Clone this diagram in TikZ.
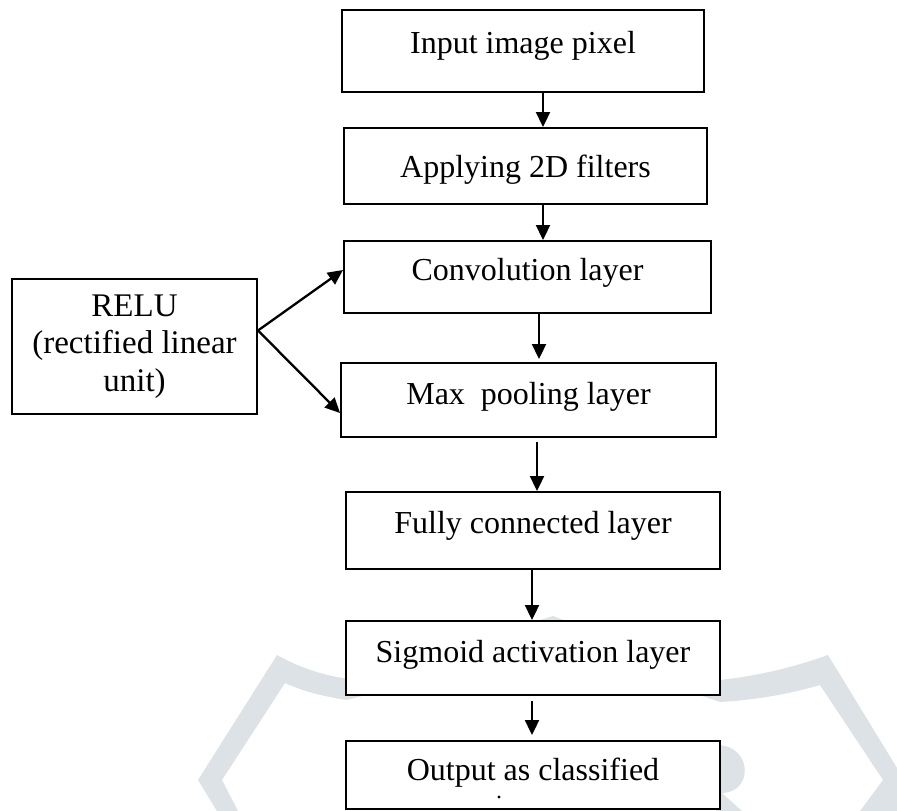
\documentclass[tikz,border=0pt]{standalone}
\usepackage{fontspec}
\setmainfont{Liberation Serif}
\usetikzlibrary{arrows.meta}
\definecolor{wmark}{RGB}{220,226,229}
\tikzset{
  box/.style={draw=black, line width=2pt, fill=white, inner sep=0pt,
    font=\fontsize{32}{37}\selectfont, text height=22pt},
  arr/.style={draw=black, line width=2.3pt, -{Triangle[length=15pt,width=14pt]}}
}
\begin{document}
\begin{tikzpicture}[x=1pt,y=-1pt]
\useasboundingbox (0,0) rectangle (897,811);
% faint watermark
\begin{scope}
\clip (0,0) rectangle (897,811);
\fill[wmark] (217,811) -- (198,780) -- (277,655)
  .. controls (300,668) and (325,676) .. (350,679) -- (553,616) -- (720,680)
  .. controls (765,675) and (800,665) .. (828,655) -- (897,768) -- (897,811) -- (860,811)
  -- (883,780) -- (820,685) .. controls (790,694) and (755,700) .. (720,702)
  -- (553,645) -- (347,700) .. controls (320,696) and (300,690) .. (285,683)
  -- (222,780) -- (238,811) -- cycle;
\fill[wmark] (718,745) .. controls (752,746) and (754,792) .. (722,793)
  -- (742,811) -- (716,811) -- cycle;
\end{scope}
% boxes
\node[box, minimum width=362pt, minimum height=82pt, text depth=18pt] (b1) at (523,51) {Input image pixel};
\node[box, minimum width=363pt, minimum height=76pt, text depth=0pt] (b2) at (525.5,166) {Applying 2D filters};
\node[box, minimum width=367pt, minimum height=72pt, text depth=16pt] (b3) at (527.5,277) {Convolution layer};
\node[box, minimum width=375pt, minimum height=74pt, text depth=14pt] (b4) at (528.5,400) {Max\ \ pooling layer};
\node[box, minimum width=374pt, minimum height=77pt, text depth=17pt] (b5) at (533,530.5) {Fully connected layer};
\node[box, minimum width=374pt, minimum height=74pt, text depth=14pt] (b6) at (533,658) {Sigmoid activation layer};
\node[box, minimum width=374pt, minimum height=68pt, text depth=12pt] (b7) at (533,775) {Output as classified};
\fill (499,797) circle (1.6pt);
\node[draw=black, line width=2pt, fill=white, inner sep=0pt, align=center,
  font=\fontsize{33}{37.5}\selectfont, minimum width=245pt, minimum height=135pt]
  (relu) at (134.5,346.5) {RELU\\(rectified linear\\unit)};
% connectors
\draw[arr] (b1.south -| 543,0) -- (b2.north -| 543,0);
\draw[arr] (b2.south -| 543,0) -- (b3.north -| 543,0);
\draw[arr, shorten >=3pt] (b3.south -| 539,0) -- (b4.north -| 539,0);
\draw[arr, shorten <=4pt] (b4.south -| 537,0) -- (b5.north -| 537,0);
\draw[arr] (b5.south -| 532,0) -- (b6.north -| 532,0);
\draw[arr, shorten <=5pt, shorten >=5pt] (b6.south -| 532,0) -- (b7.north -| 532,0);
\draw[arr] ([yshift=16pt]relu.east) -- (b3.west |- 0,270);
\draw[arr] ([yshift=16pt]relu.east) -- (b4.west |- 0,413);
\end{tikzpicture}
\end{document}
